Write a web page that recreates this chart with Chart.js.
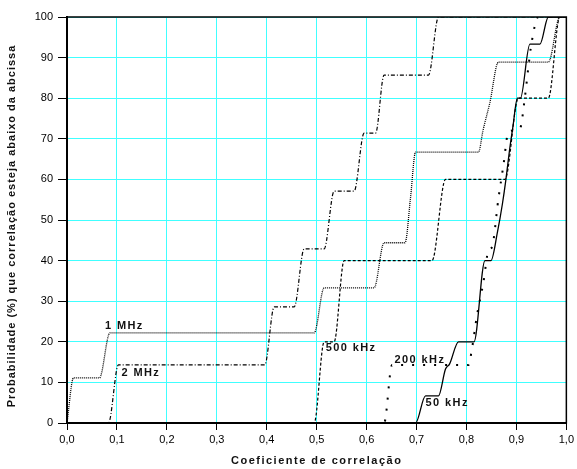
<!DOCTYPE html>
<html>
<head>
<meta charset="utf-8">
<script src="https://cdn.jsdelivr.net/npm/chart.js@4.4.0/dist/chart.umd.min.js"></script>
<style>
  html, body { margin: 0; padding: 0; background: #fff; }
  #wrap { width: 577px; height: 469px; }
</style>
</head>
<body>
<div id="wrap"><canvas id="chart" width="577" height="469"></canvas></div>
<script>
// x = coeficiente de correlação, y = probabilidade acumulada (%)
const x1MHz = [0, 0.013, 0.065, 0.086, 0.495, 0.515, 0.615, 0.635, 0.677, 0.688, 0.698, 0.824, 0.833, 0.847, 0.864, 0.964, 0.987, 1];
const y1MHz = [0, 11.1, 11.1, 22.2, 22.2, 33.3, 33.3, 44.4, 44.4, 55.6, 66.7, 66.7, 72, 79, 88.9, 88.9, 100, 100];

const x2MHz = [0, 0.083, 0.103, 0.396, 0.415, 0.455, 0.475, 0.515, 0.535, 0.575, 0.595, 0.618, 0.635, 0.724, 0.744, 1];
const y2MHz = [0, 0, 14.3, 14.3, 28.6, 28.6, 42.9, 42.9, 57.1, 57.1, 71.4, 71.4, 85.7, 85.7, 100, 100];

const x500kHz = [0, 0.495, 0.515, 0.535, 0.555, 0.731, 0.758, 0.877, 0.904, 0.964, 0.987, 1];
const y500kHz = [0, 0, 20, 20, 40, 40, 60, 60, 80, 80, 100, 100];

const x200kHz = [0, 0.635, 0.651, 0.804, 0.811, 0.821, 0.834, 0.844, 0.851, 0.864, 0.874, 0.884, 0.907, 0.917, 0.924, 0.930, 0.944, 1];
const y200kHz = [0, 0, 14.3, 14.3, 18.3, 26.5, 34.7, 42.5, 43.3, 55.3, 63.5, 71.7, 72.5, 80.3, 87.7, 93.4, 100, 100];

const x50kHz = [0, 0.698, 0.718, 0.744, 0.758, 0.766, 0.784, 0.815, 0.837, 0.849, 0.862, 0.872, 0.879, 0.886, 0.893, 0.902, 0.908, 0.927, 0.947, 0.964, 1];
const y50kHz = [0, 0, 6.7, 6.7, 13.3, 14.5, 20, 20, 40, 40, 47, 54, 60, 67, 73, 80, 80, 93.3, 93.3, 100, 100];

// curve labels and where they sit (data units, left / middle of text)
const seriesNames = ['1 MHz', '2 MHz', '500 kHz', '200 kHz', '50 kHz'];
const labelX = [0.076, 0.109, 0.518, 0.656, 0.718];
const labelY = [23.8, 12.3, 18.6, 15.6, 4.9];

const xTitle = 'Coeficiente de correlação';
const yTitle = 'Probabilidade (%) que correlação esteja abaixo da abcissa';

const FONT = '"Liberation Sans", Arial, sans-serif';
Chart.defaults.font.family = FONT;
Chart.defaults.color = '#000';

const pts = (xs, ys) => xs.map((x, i) => ({ x: x, y: ys[i] }));

const lineStyle = {
  borderColor: '#000',
  pointRadius: 0,
  fill: false,
  cubicInterpolationMode: 'monotone'
};

// frame, curve labels and axis titles
const extras = {
  id: 'extras',
  afterDatasetsDraw(chart) {
    const { ctx, chartArea: a, scales } = chart;
    ctx.save();
    ctx.strokeStyle = '#000';
    ctx.lineWidth = 1.5;
    ctx.strokeRect(a.left, a.top, a.right - a.left, a.bottom - a.top);
    ctx.lineWidth = 2;
    ctx.beginPath();
    ctx.moveTo(a.left, a.top);
    ctx.lineTo(a.left, a.bottom);
    ctx.lineTo(a.right, a.bottom);
    ctx.stroke();

    ctx.fillStyle = '#111';
    ctx.font = 'bold 11px ' + FONT;
    ctx.letterSpacing = '1.4px';
    ctx.textBaseline = 'middle';
    ctx.textAlign = 'left';
    seriesNames.forEach((name, i) => {
      ctx.fillText(name, scales.x.getPixelForValue(labelX[i]), scales.y.getPixelForValue(labelY[i]));
    });

    ctx.textAlign = 'center';
    ctx.letterSpacing = '1.5px';
    ctx.fillText(xTitle, (a.left + a.right) / 2, 461);
    ctx.translate(12, 226);
    ctx.rotate(-Math.PI / 2);
    ctx.letterSpacing = '1px';
    ctx.fillText(yTitle, 0, 0);
    ctx.restore();
  }
};

new Chart(document.getElementById('chart'), {
  type: 'line',
  data: {
    datasets: [
      { ...lineStyle, label: '1 MHz', data: pts(x1MHz, y1MHz), borderWidth: 1.3, borderDash: [1, 1] },
      { ...lineStyle, label: '2 MHz', data: pts(x2MHz, y2MHz), borderWidth: 1.2, borderDash: [4, 2, 1, 2] },
      { ...lineStyle, label: '500 kHz', data: pts(x500kHz, y500kHz), borderWidth: 1.2, borderDash: [3, 2] },
      { ...lineStyle, label: '200 kHz', data: pts(x200kHz, y200kHz), borderWidth: 2, borderDash: [2, 9] },
      { ...lineStyle, label: '50 kHz', data: pts(x50kHz, y50kHz), borderWidth: 1.3 }
    ]
  },
  options: {
    responsive: false,
    animation: false,
    devicePixelRatio: 1,
    layout: { padding: { top: 17, right: 9, left: 0, bottom: 0 } },
    plugins: { legend: { display: false }, tooltip: { enabled: false } },
    scales: {
      x: {
        type: 'linear',
        min: 0,
        max: 1,
        afterFit: (s) => { s.height = 46; },
        ticks: {
          stepSize: 0.1,
          padding: 3,
          font: { size: 11 },
          callback: (v) => v.toFixed(1).replace('.', ',')
        },
        grid: { color: '#40ffff', lineWidth: 1, tickColor: '#000', tickLength: 7 },
        border: { color: '#000', width: 2 }
      },
      y: {
        min: 0,
        max: 100,
        afterFit: (s) => { s.width = 67; },
        ticks: { stepSize: 10, padding: 5, font: { size: 11 } },
        grid: { color: '#40ffff', lineWidth: 1, tickColor: '#000', tickLength: 9 },
        border: { color: '#000', width: 2 }
      }
    }
  },
  plugins: [extras]
});
</script>
</body>
</html>
